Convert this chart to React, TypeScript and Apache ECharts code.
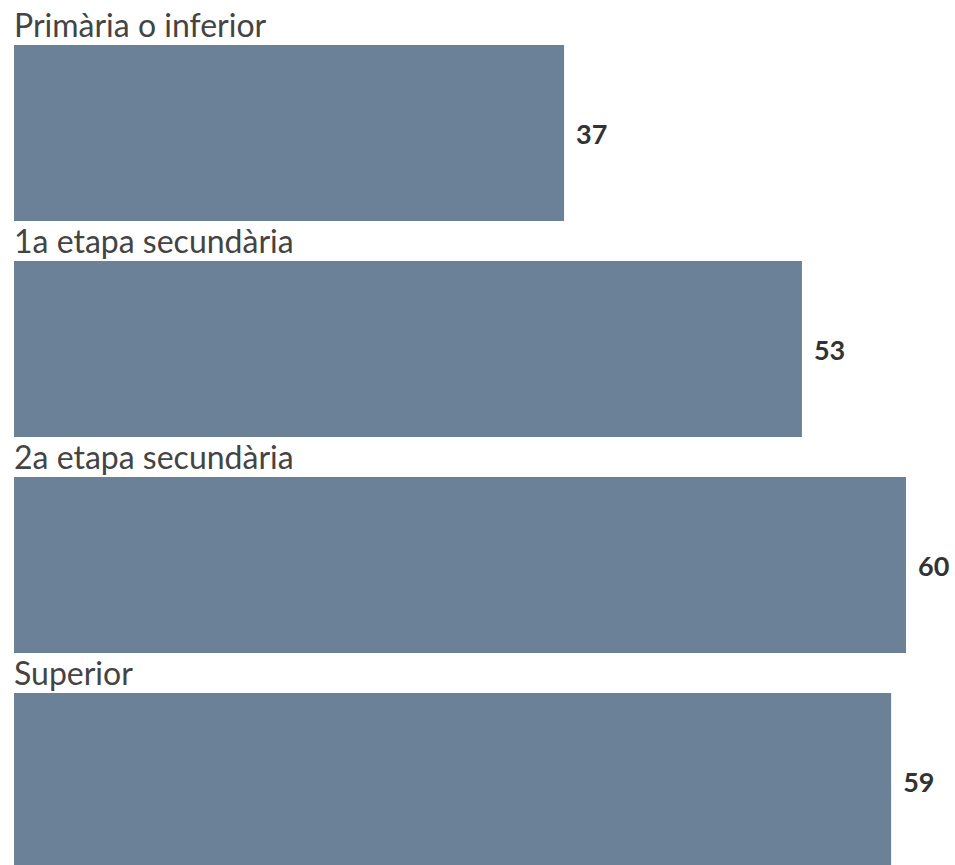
import React, { useEffect, useRef } from "react";
import * as echarts from "echarts";

const categories = ["Primària o inferior", "1a etapa secundària", "2a etapa secundària", "Superior"];
const values = [37, 53, 60, 59];

export default function App() {
  const ref = useRef<HTMLDivElement>(null);
  useEffect(() => {
    if (!ref.current) return;
    const chart = echarts.init(ref.current, null, { renderer: "svg" });
    chart.setOption({
      animation: false,
      grid: { left: 14, top: 25, width: 892, height: 864, outerBoundsMode: "none" },
      xAxis: { type: "value", min: 0, max: 60, show: false },
      yAxis: { type: "category", data: categories, inverse: true, show: false },
      series: [
        {
          type: "bar",
          data: values,
          barWidth: 176,
          itemStyle: { color: "#6b8197" },
          label: {
            show: true,
            position: "right",
            distance: 12,
            fontFamily: "Lato",
            fontWeight: "bold",
            fontSize: 27,
            color: "#333333",
          },
          silent: true,
        },
        {
          type: "bar",
          data: values,
          barWidth: 176,
          barGap: "-100%",
          itemStyle: { color: "rgba(0,0,0,0)" },
          label: {
            show: true,
            position: [0, -21],
            align: "left",
            verticalAlign: "middle",
            formatter: (p: any) => categories[p.dataIndex],
            fontFamily: "Lato",
            fontSize: 32,
            color: "#444444",
          },
          silent: true,
        },
      ],
    });
    return () => chart.dispose();
  }, []);
  return <div ref={ref} style={{ position: "absolute", left: 0, top: 0, width: 955, height: 865 }} />;
}
